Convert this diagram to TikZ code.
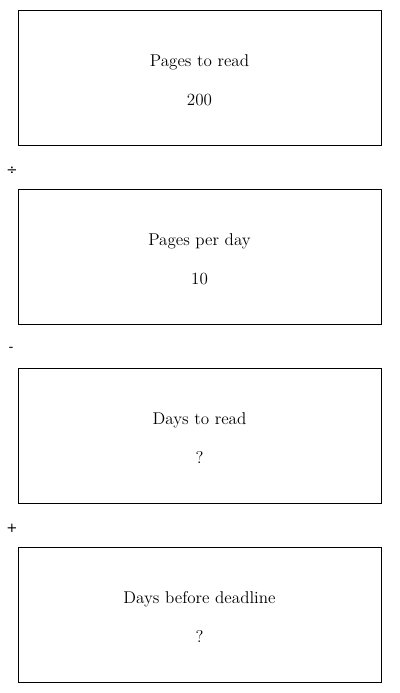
\documentclass[tikz,border=0pt]{standalone}
\usepackage{fontspec}
\newfontfamily\symfont{DejaVu Sans}
\tikzset{
  stepbox/.style={draw, line width=0.6pt, minimum width=272.25pt, minimum height=101.25pt},
  boxtext/.style={align=center, font=\fontsize{12.8}{14}\selectfont},
  opsign/.style={font=\symfont\fontsize{10}{12}\selectfont}
}
\begin{document}
\begin{tikzpicture}[x=0.75pt, y=-0.75pt]
			\useasboundingbox (0,0) rectangle (400,693);
			\node[stepbox] (pages) at (199.5,77.5) {};
			\node[boxtext] (pagestext) at ([yshift=-1.9pt]pages.center) {Pages to read\\[15.2pt]200};
			\node[opsign] (div) at (12,170.5) {÷};
			\node[stepbox] (perday) at (199.5,256.5) {};
			\node[boxtext] (perdaytext) at ([yshift=-1.9pt]perday.center) {Pages per day\\[15.2pt]10};
			\node[opsign] (minus) at (11,349.5) {-};
			\node[stepbox] (days) at (199.5,435.5) {};
			\node[boxtext] (daystext) at ([yshift=-1.9pt]days.center) {Days to read\\[15.2pt]?};
			\node[opsign] (plus) at (12,528.5) {+};
			\node[stepbox] (deadline) at (199.5,614.5) {};
			\node[boxtext] (deadlinetext) at ([yshift=-1.9pt]deadline.center) {Days before deadline\\[15.2pt]?};
		\end{tikzpicture}
\end{document}
